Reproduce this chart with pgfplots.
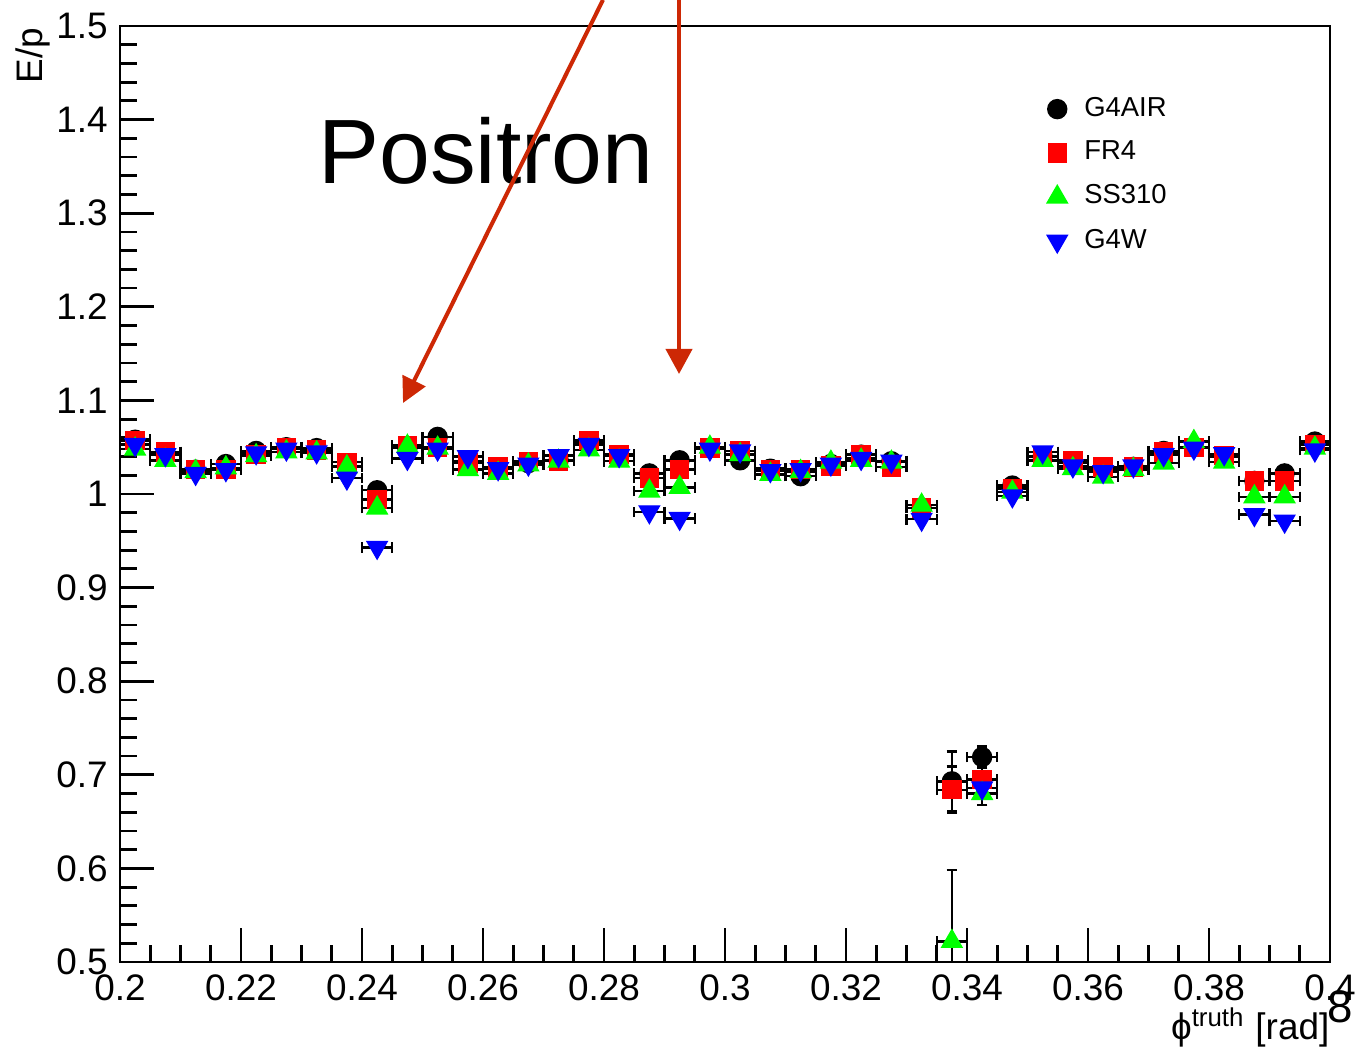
\documentclass[border=0pt]{standalone}
\usepackage{fontspec}
\setmainfont{Liberation Sans}
\usepackage{pgfplots}
\pgfplotsset{compat=1.18}
\usepackage{pgfplotstable}
\usetikzlibrary{arrows.meta}

\definecolor{arrowred}{RGB}{205,40,5}
\definecolor{rootred}{RGB}{255,0,0}
\definecolor{rootgreen}{RGB}{0,255,0}
\definecolor{rootblue}{RGB}{0,0,255}

% E/p per phi bin, bin width 0.005
\pgfplotstableread{
x      y     ey
0.2025 1.058 0.002
0.2075 1.044 0.002
0.2125 1.026 0.002
0.2175 1.032 0.002
0.2225 1.046 0.002
0.2275 1.050 0.002
0.2325 1.049 0.002
0.2375 1.030 0.002
0.2425 1.004 0.003
0.2475 1.049 0.002
0.2525 1.061 0.002
0.2575 1.035 0.002
0.2625 1.027 0.002
0.2675 1.033 0.002
0.2725 1.036 0.002
0.2775 1.054 0.002
0.2825 1.041 0.002
0.2875 1.022 0.002
0.2925 1.036 0.002
0.2975 1.049 0.002
0.3025 1.036 0.002
0.3075 1.027 0.002
0.3125 1.019 0.002
0.3175 1.032 0.002
0.3225 1.042 0.002
0.3275 1.035 0.002
0.3325 0.985 0.002
0.3375 0.693 0.032
0.3425 0.719 0.011
0.3475 1.009 0.002
0.3525 1.040 0.002
0.3575 1.033 0.002
0.3625 1.026 0.002
0.3675 1.029 0.002
0.3725 1.046 0.002
0.3775 1.050 0.002
0.3825 1.040 0.002
0.3875 1.014 0.002
0.3925 1.022 0.002
0.3975 1.056 0.002
}\airdata

\pgfplotstableread{
x      y     ey
0.2025 1.057 0.002
0.2075 1.045 0.002
0.2125 1.026 0.002
0.2175 1.026 0.002
0.2225 1.042 0.002
0.2275 1.050 0.002
0.2325 1.047 0.002
0.2375 1.034 0.002
0.2425 0.994 0.003
0.2475 1.052 0.002
0.2525 1.050 0.002
0.2575 1.033 0.002
0.2625 1.029 0.002
0.2675 1.035 0.002
0.2725 1.035 0.002
0.2775 1.057 0.002
0.2825 1.042 0.002
0.2875 1.017 0.002
0.2925 1.026 0.002
0.2975 1.049 0.002
0.3025 1.046 0.002
0.3075 1.026 0.002
0.3125 1.026 0.002
0.3175 1.030 0.002
0.3225 1.042 0.002
0.3275 1.029 0.002
0.3325 0.985 0.002
0.3375 0.684 0.025
0.3425 0.695 0.012
0.3475 1.006 0.002
0.3525 1.040 0.002
0.3575 1.036 0.002
0.3625 1.029 0.002
0.3675 1.029 0.002
0.3725 1.045 0.002
0.3775 1.050 0.002
0.3825 1.041 0.002
0.3875 1.014 0.002
0.3925 1.014 0.002
0.3975 1.053 0.002
}\frdata

\pgfplotstableread{
x      y     ey
0.2025 1.048 0.002
0.2075 1.036 0.002
0.2125 1.024 0.002
0.2175 1.028 0.002
0.2225 1.041 0.002
0.2275 1.045 0.002
0.2325 1.044 0.002
0.2375 1.029 0.002
0.2425 0.985 0.003
0.2475 1.051 0.002
0.2525 1.049 0.002
0.2575 1.026 0.002
0.2625 1.022 0.002
0.2675 1.031 0.002
0.2725 1.035 0.002
0.2775 1.047 0.002
0.2825 1.035 0.002
0.2875 1.003 0.002
0.2925 1.007 0.002
0.2975 1.050 0.002
0.3025 1.042 0.002
0.3075 1.021 0.002
0.3125 1.024 0.002
0.3175 1.034 0.002
0.3225 1.036 0.002
0.3275 1.034 0.002
0.3325 0.988 0.002
0.3375 0.522 0.076
0.3425 0.680 0.012
0.3475 1.002 0.002
0.3525 1.036 0.002
0.3575 1.027 0.002
0.3625 1.018 0.002
0.3675 1.026 0.002
0.3725 1.033 0.002
0.3775 1.056 0.002
0.3825 1.034 0.002
0.3875 0.997 0.002
0.3925 0.997 0.002
0.3975 1.049 0.002
}\ssdata

\pgfplotstableread{
x      y     ey
0.2025 1.053 0.002
0.2075 1.042 0.002
0.2125 1.022 0.002
0.2175 1.026 0.002
0.2225 1.044 0.002
0.2275 1.048 0.002
0.2325 1.045 0.002
0.2375 1.017 0.002
0.2425 0.943 0.003
0.2475 1.038 0.002
0.2525 1.048 0.002
0.2575 1.040 0.002
0.2625 1.027 0.002
0.2675 1.032 0.002
0.2725 1.041 0.002
0.2775 1.053 0.002
0.2825 1.041 0.002
0.2875 0.981 0.002
0.2925 0.974 0.002
0.2975 1.048 0.002
0.3025 1.046 0.002
0.3075 1.025 0.002
0.3125 1.026 0.002
0.3175 1.032 0.002
0.3225 1.038 0.002
0.3275 1.035 0.002
0.3325 0.973 0.002
0.3425 0.686 0.012
0.3475 0.998 0.002
0.3525 1.045 0.002
0.3575 1.030 0.002
0.3625 1.024 0.002
0.3675 1.030 0.002
0.3725 1.042 0.002
0.3775 1.049 0.002
0.3825 1.043 0.002
0.3875 0.978 0.002
0.3925 0.971 0.002
0.3975 1.047 0.002
}\wdata

\begin{document}
\begin{tikzpicture}
\begin{axis}[name=ax, scale only axis, width=12.1cm, height=9.36cm,
  xmin=0.2, xmax=0.4, ymin=0.5, ymax=1.5,
  xtick={0.2,0.22,0.24,0.26,0.28,0.3,0.32,0.34,0.36,0.38,0.4},
  ytick={0.5,0.6,0.7,0.8,0.9,1,1.1,1.2,1.3,1.4,1.5},
  minor x tick num=3, minor y tick num=4,
  tick align=inside, tick pos=left,
  major tick length=0.34cm, minor tick length=0.17cm,
  axis line style={line width=0.8pt},
  tick style={line width=0.8pt, black},
  ticklabel style={font=\fontsize{10.5}{12}\selectfont},
  /pgf/number format/assume math mode=true,
  legend style={draw=none, fill=none, at={(0.757,0.94)}, anchor=north west,
    font=\fontsize{7.8}{9}\selectfont, row sep=1.6pt,
    /tikz/every odd column/.append style={column sep=0.1cm}},
  legend cell align=left,
  legend image code/.code={\draw[mark repeat=2,mark phase=2]
    plot coordinates {(0cm,0cm)(0.18cm,0cm)(0.36cm,0cm)};},
  error bars/x dir=both, error bars/x fixed=0.0025,
  error bars/y dir=both, error bars/y explicit,
  error bars/error bar style={black, line width=0.7pt},
  error bars/error mark options={black, line width=0.7pt, mark size=1.5pt, rotate=90},
]
\addplot[only marks, mark=*, mark size=2.7pt, black]
  table[x=x, y=y, y error=ey] {\airdata};
\addlegendentry{G4AIR}
\addplot[only marks, mark=square*, mark size=2.55pt, rootred]
  table[x=x, y=y, y error=ey] {\frdata};
\addlegendentry{FR4}
\addplot[only marks, mark=triangle*, mark size=3.3pt, rootgreen]
  table[x=x, y=y, y error=ey] {\ssdata};
\addlegendentry{SS310}
\addplot[only marks, mark=triangle*, mark size=3.3pt, mark options={rotate=180}, rootblue]
  table[x=x, y=y, y error=ey] {\wdata};
\addlegendentry{G4W}

\node[anchor=base, inner sep=0, font=\fontsize{26}{30}\selectfont]
  at (axis cs:0.2605,1.3322) {Positron};
\coordinate (a1s) at (axis cs:0.27983,1.5278);
\coordinate (a1e) at (axis cs:0.24678,1.0972);
\coordinate (a2s) at (axis cs:0.29240,1.5278);
\coordinate (a2e) at (axis cs:0.29240,1.1282);
\end{axis}

\draw[arrowred, line width=1.15pt, -{Triangle[length=0.25cm, width=0.25cm]}] (a1s) -- (a1e);
\draw[arrowred, line width=1.15pt, -{Triangle[length=0.25cm, width=0.26cm]}] (a2s) -- (a2e);

\node[rotate=90, anchor=base east, inner sep=0, font=\fontsize{10.5}{12}\selectfont]
  at ([shift={(-0.77cm,9.35cm)}]ax.south west) {E/p};
\node[anchor=base east, inner sep=0, font=\fontsize{10.5}{12}\selectfont]
  at ([shift={(12.1cm,-0.78cm)}]ax.south west) {ϕ\textsuperscript{truth} [rad]};
\node[font=\fontsize{13}{15}\selectfont, inner sep=0]
  at ([shift={(12.20cm,-0.45cm)}]ax.south west) {8};

\pgfresetboundingbox
\path[use as bounding box] ([shift={(-1.20cm,-0.86cm)}]ax.south west)
  rectangle ([shift={(12.36cm,9.62cm)}]ax.south west);
\end{tikzpicture}
\end{document}
